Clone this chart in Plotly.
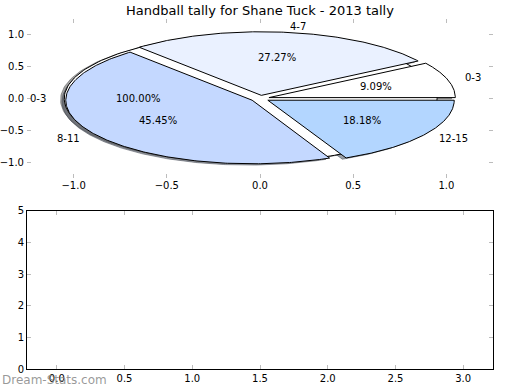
import numpy as np
import plotly.graph_objects as go

# ---------------- data ----------------
title_text = "Handball tally for Shane Tuck - 2013 tally"

labels = ["0-3", "4-7", "8-11", "12-15"]
values = [1, 3, 5, 2]
colors = ["#FFFFFF", "#EAF1FF", "#C4D8FF", "#B3D6FF"]
explode = [0.05, 0.05, 0.05, 0.05]

base_labels = ["0-3"]
base_values = [1]
base_colors = ["#FFFFFF"]
base_explode = [0.05]

pie_ticks = [-1.0, -0.5, 0.0, 0.5, 1.0]
bottom_xticks = [0.0, 0.5, 1.0, 1.5, 2.0, 2.5, 3.0]
bottom_yticks = [0, 1, 2, 3, 4, 5]

watermark = "Dream-Stats.com"

FONT = "DejaVu Sans"


def hex_rgb(h):
    h = h.lstrip("#")
    return tuple(int(h[i:i + 2], 16) for i in (0, 2, 4))


def make_wedges(vals, expl):
    total = float(sum(vals))
    out = []
    t1 = 0.0
    for v, e in zip(vals, expl):
        t2 = t1 + 360.0 * v / total
        tm = np.deg2rad((t1 + t2) / 2.0)
        cx, cy = e * np.cos(tm), e * np.sin(tm)
        th = np.deg2rad(np.linspace(t1, t2, 240))
        xs = cx + np.cos(th)
        ys = cy + np.sin(th)
        if abs((t2 - t1) - 360.0) > 1e-9:
            xs = np.concatenate([[cx], xs, [cx]])
            ys = np.concatenate([[cy], ys, [cy]])
        out.append(dict(x=xs, y=ys, cx=cx, cy=cy, tm=tm, pct=100.0 * v / total))
        t1 = t2
    return out


base_w = make_wedges(base_values, base_explode)
main_w = make_wedges(values, explode)

fig = go.Figure()

SHX, SHY = -0.02, -0.02


def add_shadow(w, col):
    r, g, b = hex_rgb(col)
    c = "rgba(%d,%d,%d,0.5)" % (int(0.3 * r), int(0.3 * g), int(0.3 * b))
    fig.add_trace(go.Scatter(x=w["x"] + SHX, y=w["y"] + SHY, mode="lines",
                             fill="toself", fillcolor=c,
                             line=dict(color=c, width=1),
                             hoverinfo="skip", showlegend=False,
                             xaxis="x", yaxis="y"))


def add_wedge(w, col):
    fig.add_trace(go.Scatter(x=w["x"], y=w["y"], mode="lines",
                             fill="toself", fillcolor=col,
                             line=dict(color="black", width=1),
                             hoverinfo="skip", showlegend=False,
                             xaxis="x", yaxis="y"))


for w, c in zip(base_w, base_colors):
    add_shadow(w, c)
for w, c in zip(main_w, colors):
    add_shadow(w, c)
for w, c in zip(base_w, base_colors):
    add_wedge(w, c)
for w, c in zip(main_w, colors):
    add_wedge(w, c)

# invisible trace for bottom axes
fig.add_trace(go.Scatter(x=[], y=[], xaxis="x2", yaxis="y2", showlegend=False))

annotations = []


def add_labels(ws, labs):
    for w, lab in zip(ws, labs):
        lx = w["cx"] + 1.1 * np.cos(w["tm"])
        ly = w["cy"] + 1.1 * np.sin(w["tm"])
        right_side = lx > 0
        annotations.append(dict(x=lx, y=ly, xref="x", yref="y", text=lab,
                                showarrow=False,
                                xanchor="left" if right_side else "right",
                                xshift=-3 if right_side else 2,
                                yanchor="middle",
                                font=dict(family=FONT, size=10, color="black")))
        px = w["cx"] + 0.6 * np.cos(w["tm"])
        py = w["cy"] + 0.6 * np.sin(w["tm"])
        annotations.append(dict(x=px, y=py, xref="x", yref="y",
                                text="%.2f%%" % w["pct"], showarrow=False,
                                xanchor="center", yanchor="middle",
                                font=dict(family=FONT, size=10, color="black")))


add_labels(base_w, base_labels)
add_labels(main_w, labels)

annotations.append(dict(x=-27 / 466.0, y=(369 - 380) / 350.0, xref="paper", yref="paper",
                        text=watermark, showarrow=False, xanchor="left", yanchor="middle",
                        font=dict(family=FONT, size=12, color="rgba(135,135,135,0.85)")))

tickfont = dict(family=FONT, size=10, color="black")
common = dict(showgrid=False, zeroline=False, ticks="inside", ticklen=4,
              tickcolor="#bcbcbc", tickwidth=1, tickfont=tickfont, automargin=False)

top_lo = (369 - 178) / 350.0
bot_hi = (369 - 210.7) / 350.0

fig.update_layout(
    width=520, height=390,
    margin=dict(l=27, r=27, t=19, b=21, autoexpand=False),
    paper_bgcolor="white", plot_bgcolor="white",
    title=dict(text=title_text, x=0.5, xref="paper", y=1 - 10 / 390.0,
               yanchor="middle", xanchor="center",
               font=dict(family=FONT, size=13, color="black")),
    xaxis=dict(domain=[0, 1], range=[-1.25, 1.25], tickvals=pie_ticks,
               tickformat=".1f", showline=False, mirror="ticks", anchor="y", **common),
    yaxis=dict(domain=[top_lo, 1], range=[-1.25, 1.25], tickvals=pie_ticks,
               tickformat=".1f", showline=False, mirror="ticks", anchor="x",
               ticklabelstandoff=2, **common),
    xaxis2=dict(domain=[0, 1], range=[-0.22, 3.22], tickvals=bottom_xticks,
                tickformat=".1f", showline=True, linecolor="black", linewidth=1,
                mirror="ticks", anchor="y2", **common),
    yaxis2=dict(domain=[0, bot_hi], range=[0, 5], tickvals=bottom_yticks,
                tickformat="d", showline=True, linecolor="black", linewidth=1,
                mirror="ticks", anchor="x2", **common),
    annotations=annotations,
    showlegend=False,
)

fig.write_html("out.html", config={"displayModeBar": False},
               post_script="document.body.style.margin='0px';document.body.style.overflow='hidden';")
